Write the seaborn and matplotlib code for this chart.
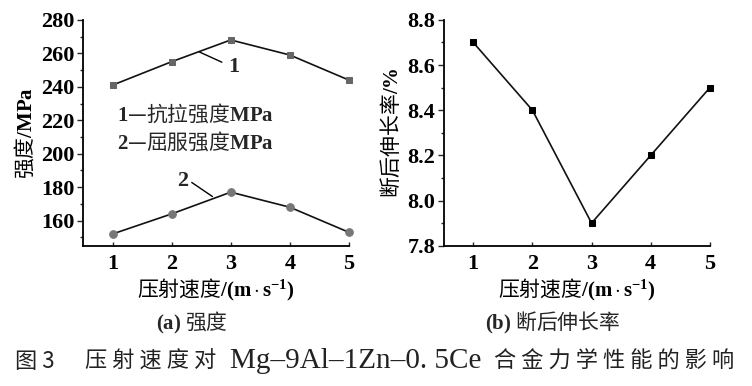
import matplotlib
matplotlib.use("Agg")
import matplotlib.pyplot as plt
import seaborn as sns
import pandas as pd
from matplotlib.ticker import MultipleLocator, FormatStrFormatter

sns.set_theme(style="ticks")
plt.rcParams['font.family'] = ['Liberation Serif', 'Noto Sans CJK SC']
plt.rcParams['mathtext.fontset'] = 'custom'
plt.rcParams['mathtext.rm'] = 'Liberation Serif'
plt.rcParams['mathtext.bf'] = 'Liberation Serif:bold'
plt.rcParams['mathtext.it'] = 'Liberation Serif:italic'

speed = [1, 2, 3, 4, 5]
tensile = [241, 255, 268, 259, 244]
yield_s = [152, 164, 177, 168, 153]
elong = [8.7, 8.4, 7.9, 8.2, 8.5]

CJK = ['Noto Sans CJK SC', 'Liberation Serif']

fig = plt.figure(figsize=(7.52, 3.86), dpi=100)
ax1 = fig.add_axes([0.1104, 0.3635, 0.3536, 0.585])
ax2 = fig.add_axes([0.590, 0.3635, 0.354, 0.585])

df1 = pd.DataFrame({'v': speed, 't': tensile, 'y': yield_s})
df2 = pd.DataFrame({'v': speed, 'e': elong})

sns.lineplot(data=df1, x='v', y='t', ax=ax1, color='#111111', lw=1.2,
             marker='s', markersize=5, markerfacecolor='#666666',
             markeredgecolor='#666666', clip_on=False)
sns.lineplot(data=df1, x='v', y='y', ax=ax1, color='#111111', lw=1.2,
             marker='o', markersize=5.5, markerfacecolor='#777777',
             markeredgecolor='#777777', clip_on=False)
sns.lineplot(data=df2, x='v', y='e', ax=ax2, color='#111111', lw=1.2,
             marker='s', markersize=5, markerfacecolor='black',
             markeredgecolor='black', clip_on=False)

ax1.set_xlim(0.5, 5.0)
ax1.set_ylim(145, 280)
ax1.yaxis.set_major_locator(MultipleLocator(20))
ax1.yaxis.set_minor_locator(MultipleLocator(10))
ax2.set_xlim(0.5, 5.0)
ax2.set_ylim(7.8, 8.8)
ax2.yaxis.set_major_locator(MultipleLocator(0.2))
ax2.yaxis.set_minor_locator(MultipleLocator(0.1))
ax2.yaxis.set_major_formatter(FormatStrFormatter('%.1f'))

xlab = r'压射速度$\mathbf{/(m\cdot s^{-1})}$'
for ax in (ax1, ax2):
    ax.set_xticks(speed)
    for s in ('top', 'right'):
        ax.spines[s].set_visible(False)
    for s in ('left', 'bottom'):
        ax.spines[s].set_linewidth(1.3)
        ax.spines[s].set_color('black')
    ax.tick_params(axis='x', direction='in', length=3, width=1, pad=6)
    ax.tick_params(axis='y', which='major', direction='out', length=4, width=1, pad=2)
    ax.tick_params(axis='y', which='minor', direction='out', length=2, width=1)
    for lab in ax.get_xticklabels() + ax.get_yticklabels():
        lab.set_fontfamily('Liberation Serif')
        lab.set_fontweight('bold')
        lab.set_fontsize(16)
        lab.set_color('black')
    ax.set_xlabel(xlab, fontsize=15, family=CJK, color='black', labelpad=2)

ax1.set_ylabel(r'强度$\mathbf{/MPa}$', fontsize=15, family=CJK, color='black', labelpad=3)
ax2.set_ylabel(r'断后伸长率$\mathbf{/\%}$', fontsize=15, family=CJK, color='black', labelpad=3)

# annotations
ax1.plot([2.47, 2.85], [260.8, 254.7], color='black', lw=1)
ax1.text(2.95, 252, '1', fontsize=16, fontweight='bold', family='Liberation Serif', va='center', ha='left')
ax1.plot([2.34, 2.69], [182.8, 174.4], color='black', lw=1)
ax1.text(2.28, 183.5, '2', fontsize=16, fontweight='bold', family='Liberation Serif', va='center', ha='right')
ax1.text(1.07, 223.5, r'$\mathbf{1}$—抗拉强度$\mathbf{MPa}$', fontsize=15, family=CJK, va='center', ha='left')
ax1.text(1.07, 206.8, r'$\mathbf{2}$—屈服强度$\mathbf{MPa}$', fontsize=15, family=CJK, va='center', ha='left')

yc = 1 - 323 / 386
fig.text(192 / 752, yc, r'$\mathbf{(a)}$ 强度', fontsize=15, family=CJK, ha='center', va='center')
fig.text(553 / 752, yc, r'$\mathbf{(b)}$ 断后伸长率', fontsize=15, family=CJK, ha='center', va='center')

yb = 1 - 361 / 386
fig.text(15 / 752, yb, '图 3', fontsize=16, family=CJK, ha='left', va='center', color='#222222')
fig.text(85 / 752, yb, '压 射 速 度 对', fontsize=16, family=CJK, ha='left', va='center', color='#222222')
fig.text(230 / 752, yb, 'Mg–9Al–1Zn–0. 5Ce', fontsize=21, family='Liberation Serif', ha='left', va='center', color='#222222')
fig.text(494 / 752, yb, '合 金 力 学 性 能 的 影 响', fontsize=16, family=CJK, ha='left', va='center', color='#222222')

fig.savefig('out.png', dpi=100, facecolor='white')
